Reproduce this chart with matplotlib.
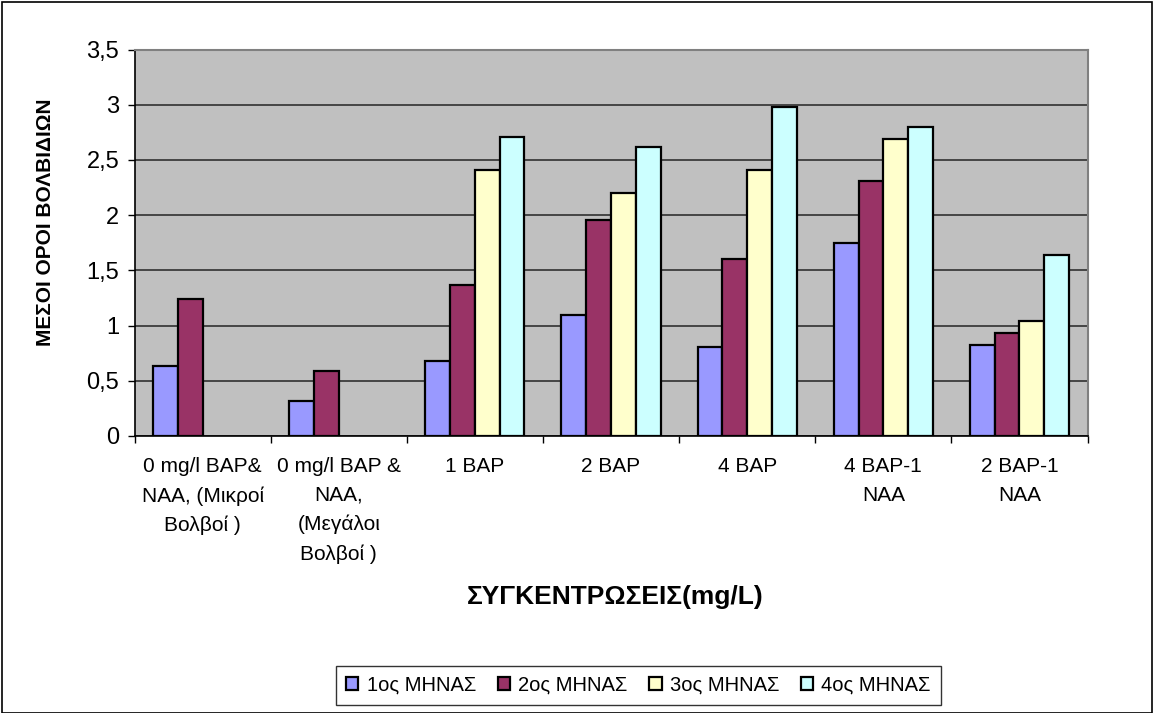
import numpy as np
import matplotlib
matplotlib.use('Agg')
import matplotlib.pyplot as plt
from matplotlib.patches import Rectangle

plt.rcParams['font.family'] = ['Liberation Sans', 'DejaVu Sans']

# categories (x axis) and monthly means
categories = ['0 mg/l BAP&\nNAA, (Μικροί\nΒολβοί )',
              '0 mg/l BAP &\nNAA,\n(Μεγάλοι\nΒολβοί )',
              '1 BAP', '2 BAP', '4 BAP',
              '4 BAP-1\nNAA', '2 BAP-1\nNAA']
series_names = ['1ος ΜΗΝΑΣ', '2ος ΜΗΝΑΣ', '3ος ΜΗΝΑΣ', '4ος ΜΗΝΑΣ']
month1 = [0.63, 0.32, 0.68, 1.10, 0.81, 1.75, 0.82]
month2 = [1.24, 0.59, 1.37, 1.96, 1.60, 2.31, 0.935]
month3 = [0.0, 0.0, 2.41, 2.20, 2.41, 2.69, 1.04]
month4 = [0.0, 0.0, 2.71, 2.62, 2.98, 2.80, 1.64]
colors = ['#9999FF', '#993366', '#FFFFCC', '#CCFFFF']
yticks = [0, 0.5, 1, 1.5, 2, 2.5, 3, 3.5]
ytick_labels = ['0', '0,5', '1', '1,5', '2', '2,5', '3', '3,5']

fig = plt.figure(figsize=(11.55, 7.13), dpi=100)
ax = fig.add_axes([134.5/1155, 1-436/713, 953/1155, (436-49.5)/713])
ax.set_facecolor('#C0C0C0')

x = np.arange(len(categories))
w = 0.182
data = [month1, month2, month3, month4]
for i, vals in enumerate(data):
    vals = np.array(vals)
    pos = x + (i - 1.5) * w
    mask = vals > 0
    ax.bar(pos[mask], vals[mask], width=w, color=colors[i], edgecolor='black',
           linewidth=1.6, zorder=3, label=series_names[i])

ax.set_xlim(-0.5, len(categories) - 0.5)
ax.set_ylim(0, 3.5)
ax.set_yticks(yticks)
ax.set_yticklabels(ytick_labels, fontsize=17)
ax.yaxis.grid(True, color='#303030', linewidth=1.2, zorder=1)
ax.set_axisbelow(True)

ax.set_xticks(x)
ax.set_xticklabels(categories, fontsize=15, linespacing=1.66, va='top')
ax.set_xticks(np.arange(-0.5, len(categories)), minor=True)
ax.tick_params(axis='x', which='major', length=0, pad=15)
ax.tick_params(axis='x', which='minor', length=5, width=1, color='black')
ax.tick_params(axis='y', length=5, width=1, pad=6)

for s in ['left', 'bottom']:
    ax.spines[s].set_color('black')
    ax.spines[s].set_linewidth(1.2)
for s in ['top', 'right']:
    ax.spines[s].set_color('#808080')
    ax.spines[s].set_linewidth(1.5)

fig.text(46/1155, 1-222/713, 'ΜΕΣΟΙ ΟΡΟΙ ΒΟΛΒΙΔΙΩΝ', rotation=90, fontsize=15,
         fontweight='bold', ha='center', va='center')
fig.text(615/1155, 1-597/713, 'ΣΥΓΚΕΝΤΡΩΣΕΙΣ(mg/L)', fontsize=19,
         fontweight='bold', ha='center', va='center')

leg = fig.legend(loc='upper center', bbox_to_anchor=(638.5/1155, 1-665.5/713), ncol=4,
                 fontsize=14.5, frameon=True, fancybox=False, edgecolor='black',
                 handlelength=0.6, handleheight=0.6, handletextpad=0.4,
                 columnspacing=1.1, borderpad=0.5, borderaxespad=0)
leg.get_frame().set_linewidth(1.0)

fig.patches.append(Rectangle((2/1155, 0), 1150/1155, 1-2/713, transform=fig.transFigure,
                             fill=False, edgecolor='black', linewidth=1.2))

fig.savefig('out.png', dpi=100)
